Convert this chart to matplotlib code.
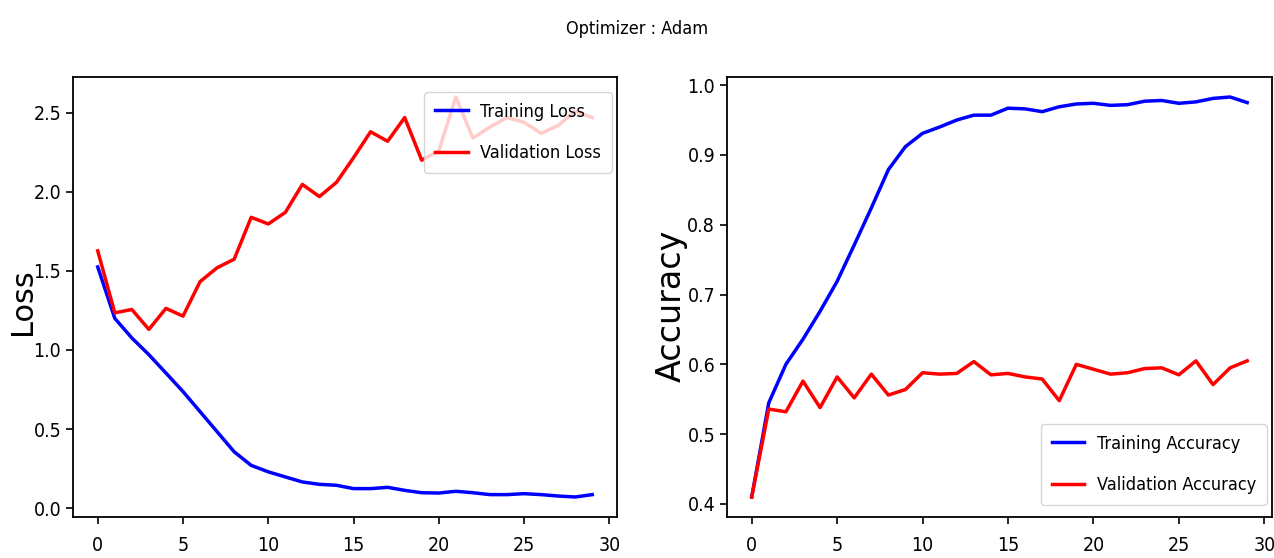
import matplotlib
matplotlib.use('Agg')
import matplotlib.pyplot as plt
import numpy as np

plt.rcParams['font.family'] = ['DejaVu Sans']
plt.rcParams['font.stretch'] = 'condensed'

epochs = np.arange(30)

train_loss = [1.525, 1.20, 1.076, 0.97, 0.854, 0.737, 0.61, 0.483, 0.356, 0.27,
              0.229, 0.197, 0.165, 0.15, 0.144, 0.123, 0.123, 0.131, 0.112, 0.097,
              0.095, 0.106, 0.097, 0.085, 0.085, 0.091, 0.085, 0.076, 0.07, 0.085]
val_loss = [1.627, 1.235, 1.256, 1.13, 1.263, 1.214, 1.432, 1.52, 1.574, 1.839,
            1.797, 1.87, 2.047, 1.97, 2.06, 2.216, 2.38, 2.32, 2.47, 2.20,
            2.26, 2.60, 2.34, 2.41, 2.47, 2.44, 2.37, 2.42, 2.51, 2.47]

train_acc = [0.41, 0.545, 0.60, 0.636, 0.676, 0.719, 0.771, 0.824, 0.879, 0.912,
             0.931, 0.940, 0.95, 0.957, 0.957, 0.967, 0.966, 0.962, 0.969, 0.973,
             0.974, 0.971, 0.972, 0.977, 0.978, 0.974, 0.976, 0.981, 0.983, 0.975]
val_acc = [0.41, 0.536, 0.532, 0.576, 0.538, 0.582, 0.552, 0.586, 0.556, 0.564,
           0.588, 0.586, 0.587, 0.604, 0.585, 0.587, 0.582, 0.579, 0.548, 0.60,
           0.593, 0.586, 0.588, 0.594, 0.595, 0.585, 0.605, 0.571, 0.595, 0.605]

fig = plt.figure(figsize=(12.74, 5.58), dpi=100)
ax1 = fig.add_axes([0.0573, 0.0735, 0.427, 0.7885])
ax2 = fig.add_axes([0.5706, 0.0735, 0.4278, 0.7885])

leg_kw = dict(fontsize=13, labelspacing=1.3, borderpad=0.6, handlelength=1.8,
              handletextpad=0.7, borderaxespad=0)

ax1.plot(epochs, train_loss, color='blue', lw=2.5, label='Training Loss')
ax1.plot(epochs, val_loss, color='red', lw=2.5, label='Validation Loss')
ax1.set_ylabel('Loss', fontsize=22, fontstretch='normal')
ax1.yaxis.set_label_coords(-0.067, 0.49)
ax1.legend(loc='upper right', bbox_to_anchor=(0.991, 0.966), **leg_kw)

ax2.plot(epochs, train_acc, color='blue', lw=2.5, label='Training Accuracy')
ax2.plot(epochs, val_acc, color='red', lw=2.5, label='Validation Accuracy')
ax2.set_ylabel('Accuracy', fontsize=24, fontstretch='normal')
ax2.yaxis.set_label_coords(-0.0716, 0.48)
ax2.legend(loc='lower right', bbox_to_anchor=(0.991, 0.027), **leg_kw)

for ax in (ax1, ax2):
    ax.set_xticks(range(0, 31, 5))
    ax.tick_params(labelsize=14, width=1.2, length=5)
    ax.tick_params(axis='x', pad=9)
    for sp in ax.spines.values():
        sp.set_linewidth(1.3)

fig.suptitle('Optimizer : Adam', fontsize=13, y=0.964)
fig.savefig('out.png')
